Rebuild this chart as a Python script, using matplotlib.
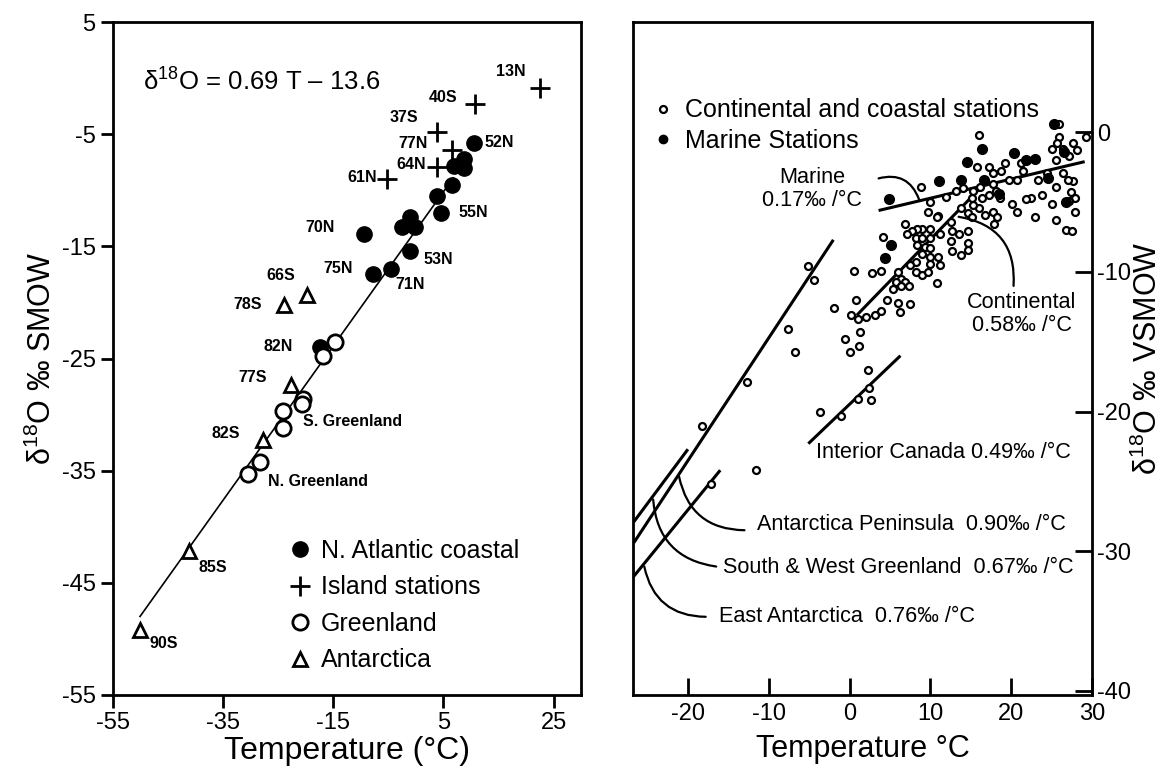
import numpy as np
import matplotlib.pyplot as plt
from matplotlib.lines import Line2D

plt.rcParams['font.family'] = ['Liberation Sans', 'DejaVu Sans']
plt.rcParams['axes.unicode_minus'] = False
plt.rcParams['mathtext.fontset'] = 'custom'
plt.rcParams['mathtext.rm'] = 'Liberation Sans'

# ---------------- left panel data (T in degC, d18O in permil) ----------------
atl_T = [10.6, 7.0, 8.8, 8.8, 6.6, 3.9, 4.6, -1.0, -0.1, -2.5, -9.5, -1.0, -4.5, -7.8, -17.5]
atl_d = [-5.8, -7.8, -7.2, -8.0, -9.5, -10.5, -12.0, -12.4, -13.3, -13.3, -13.9, -15.4, -17.0, -17.5, -24.0]
isl_T = [22.5, 10.8, 3.9, 6.6, 3.9, -5.2]
isl_d = [-0.9, -2.3, -4.8, -6.4, -7.9, -9.0]
grn_T = [-14.6, -16.8, -20.5, -20.6, -24.1, -24.1, -28.3, -30.4]
grn_d = [-23.5, -24.8, -28.6, -29.1, -29.7, -31.2, -34.2, -35.3]
ant_T = [-19.7, -23.9, -22.6, -27.7, -41.2, -50.1]
ant_d = [-19.3, -20.2, -27.4, -32.3, -42.2, -49.2]
fit_T = [-50.1, 6.8]
fit_d = [-48.0, -8.9]

station_names = ['13N', '40S', '37S', '77N', '64N', '61N', '52N', '55N', '70N', '53N',
                 '75N', '71N', '66S', '78S', '82N', '77S', '82S', '85S', '90S',
                 'S. Greenland', 'N. Greenland']
station_T = [14.6, 2.3, -4.8, -3.2, -3.5, -7.0, 12.5, 7.7, -20.1, 1.4,
             -16.8, -3.7, -27.2, -33.2, -27.7, -32.3, -37.2, -39.4, -48.3,
             -20.5, -26.8]
station_d = [0.6, -1.7, -3.5, -5.8, -7.7, -8.9, -5.7, -12.0, -13.3, -16.2,
             -17.0, -18.4, -17.6, -20.2, -23.9, -26.7, -31.7, -43.6, -50.4,
             -30.6, -36.0]
right_aligned = {'61N'}

# ---------------- right panel data ----------------
cont_T = [25.9, 16.0, 25.9, 29.3, 25.7, 25.1, 26.4, 27.7, 28.1, 25.5, 27.2, 24.4, 26.4,
          27.7, 25.5, 27.0, 27.4, 27.9, 27.2, 25.1, 27.9, 25.5, 26.8, 27.5, 22.9, 23.8,
          22.5, 21.8, 20.7, 20.1, 23.3, 21.5, 20.7, 19.7, 18.8, 17.7, 17.3, 15.8, 15.3,
          15.1, 13.8, 14.0, 13.2, 9.9, 9.7, 11.0, 16.2, 16.8, 17.7, 18.1, 18.6, 17.3,
          16.4, 16.0, 16.8, 17.7, 18.3, 17.9, 15.3, 14.7, 15.1, 12.5, 12.7, 13.6, 14.7,
          14.7, 14.7, 13.8, 12.7, 12.5, 11.2, 9.9, 9.0, 8.4, 7.7, 7.1, 6.9, 8.2, 9.0,
          9.9, 8.4, 9.3, 9.9, 9.0, 9.9, 11.0, 11.2, 8.2, 7.5, 8.2, 9.0, 9.7, 9.9, 6.0,
          6.4, 5.8, 6.9, 5.4, 6.4, 7.3, 10.8, 4.1, 2.8, 3.9, 0.6, 0.8, 4.7, 6.0, 6.2,
          7.5, 3.9, 3.2, 2.1, 1.0, 0.2, -1.9, 2.3, 10.8, 19.2, 21.2, 12.0, 8.9,
          -5.2, -4.4, -7.6, -6.8, -12.7, -18.2, -11.6, -17.1, -3.6, -1.0, 1.1, 2.6,
          2.4, -0.6, 1.2, 0.0, 1.3]
cont_d = [0.6, -0.2, -0.3, -0.3, -0.8, -1.2, -1.2, -0.8, -1.3, -2.0, -1.7, -2.9, -2.9,
          -3.5, -3.9, -3.4, -4.3, -4.7, -4.9, -5.1, -5.7, -6.3, -7.0, -7.1, -6.1, -4.5,
          -4.7, -4.8, -5.7, -5.1, -3.4, -2.8, -3.4, -3.4, -2.8, -2.9, -2.5, -2.5, -4.2,
          -4.7, -5.4, -4.0, -4.2, -5.0, -5.7, -6.0, -3.9, -3.5, -3.7, -4.2, -4.7, -4.5,
          -4.7, -5.4, -5.9, -5.7, -6.1, -6.6, -5.2, -5.8, -6.1, -6.4, -7.1, -7.3, -7.1,
          -7.9, -8.4, -8.8, -8.5, -7.8, -7.3, -6.9, -6.9, -6.9, -7.1, -7.3, -6.6, -7.6,
          -7.6, -7.6, -8.1, -8.2, -8.3, -8.7, -8.9, -8.9, -9.5, -9.3, -9.5, -10.0, -10.2,
          -10.0, -9.4, -10.0, -10.5, -10.7, -10.7, -11.2, -11.0, -11.0, -10.8, -7.5, -10.1,
          -9.9, -9.9, -12.0, -12.0, -12.2, -12.9, -12.3, -12.8, -13.1, -13.2, -13.4, -13.1,
          -12.6, -17.0, -6.1, -2.2, -2.2, -4.6, -3.9,
          -9.6, -10.6, -14.1, -15.7, -17.9, -21.0, -24.2, -25.2, -20.0, -20.3, -19.1, -19.2,
          -18.3, -14.8, -15.3, -15.7, -14.3]
mar_T = [4.9, 5.1, 4.4, 11.1, 14.6, 16.4, 16.6, 20.3, 21.8, 22.9, 25.3, 24.6, 26.5, 26.8, 18.5, 13.8]
mar_d = [-4.8, -8.1, -9.0, -3.5, -2.1, -1.2, -3.4, -1.45, -2.0, -1.9, 0.6, -3.3, -1.4, -5.0, -4.4, -3.4]

# regression lines (endpoints)
lines = {
    'marine':      ([3.6, 29.1], [-5.6, -2.1]),
    'continental': ([0.9, 17.0], [-13.1, -3.5]),
    'peninsula':   ([-26.7, -2.0], [-29.4, -7.7]),
    'greenland':   ([-26.7, -20.0], [-27.9, -22.7]),
    'east_ant':    ([-26.7, -16.0], [-31.8, -24.2]),
    'canada':      ([-5.1, 6.3], [-22.3, -16.0]),
}

fig = plt.figure(figsize=(11.75, 7.78), dpi=100)

# ======================= LEFT PANEL =======================
ax1 = fig.add_axes([0.0962, 0.1067, 0.3983, 0.865])
ax1.plot(fit_T, fit_d, color='black', lw=1.2)
ax1.plot(atl_T, atl_d, 'o', color='black', ms=11, zorder=3)
ax1.plot(isl_T, isl_d, '+', color='black', ms=14, mew=2, zorder=3)
ax1.plot(grn_T, grn_d, 'o', mfc='white', mec='black', ms=11, mew=2, zorder=3)
ax1.plot(ant_T, ant_d, '^', mfc='white', mec='black', ms=10, mew=2, zorder=3)

for name, x, y in zip(station_names, station_T, station_d):
    ha = 'right' if name in right_aligned else 'left'
    ax1.text(x, y, name, fontsize=11.5, fontweight='bold', ha=ha, va='center')

ax1.text(-49.5, -0.2, 'δ$^{18}$O = 0.69 T – 13.6', fontsize=18.5, ha='left', va='center')

ax1.set_xlim(-55, 30)
ax1.set_ylim(-55, 5)
ax1.set_xticks([-55, -35, -15, 5, 25])
ax1.set_yticks([5, -5, -15, -25, -35, -45, -55])
ax1.tick_params(direction='out', length=9, width=2, labelsize=17, top=False, right=False)
for s in ax1.spines.values():
    s.set_linewidth(2)
ax1.set_xlabel('Temperature (°C)', fontsize=23, labelpad=1)
ax1.set_ylabel('δ$^{18}$O ‰ SMOW', fontsize=22, labelpad=3)

handles1 = [
    Line2D([], [], ls='none', marker='o', color='black', ms=11),
    Line2D([], [], ls='none', marker='+', color='black', ms=14, mew=2),
    Line2D([], [], ls='none', marker='o', mfc='white', mec='black', ms=11, mew=2),
    Line2D([], [], ls='none', marker='^', mfc='white', mec='black', ms=10, mew=2),
]
ax1.legend(handles1, ['N. Atlantic coastal', 'Island stations', 'Greenland', 'Antarctica'],
           loc='lower left', bbox_to_anchor=(0.33, 0.0), frameon=False, fontsize=18,
           handlelength=0.8, handletextpad=0.45, labelspacing=0.5)

# ======================= RIGHT PANEL =======================
ax2 = fig.add_axes([0.5387, 0.1067, 0.3906, 0.865])
for key, (lx, ly) in lines.items():
    ax2.plot(lx, ly, color='black', lw=2.2, solid_capstyle='butt')
ax2.plot(cont_T, cont_d, 'o', mfc='white', mec='black', ms=5, mew=1.6, zorder=3)
ax2.plot(mar_T, mar_d, 'o', color='black', ms=7, zorder=4)

lbl = dict(fontsize=15.6)
ax2.text(-4.6, -4.05, 'Marine\n0.17‰ /°C', ha='center', va='center', linespacing=1.1, **lbl)
ax2.text(21.3, -13.0, 'Continental\n0.58‰ /°C', ha='center', va='center', linespacing=1.1, **lbl)
ax2.text(-4.2, -22.9, 'Interior Canada 0.49‰ /°C', ha='left', va='center', **lbl)
ax2.text(-11.4, -28.1, 'Antarctica Peninsula  0.90‰ /°C', ha='left', va='center', **lbl)
ax2.text(-15.6, -31.2, 'South & West Greenland  0.67‰ /°C', ha='left', va='center', **lbl)
ax2.text(-16.1, -34.7, 'East Antarctica  0.76‰ /°C', ha='left', va='center', **lbl)

leaders = [((3.6, -3.3), (8.6, -4.8), -0.45),
           ((13.5, -6.05), (20.3, -11.0), -0.45),
           ((-21.1, -24.65), (-13.0, -28.5), 0.4),
           ((-24.3, -26.3), (-16.5, -31.1), 0.4),
           ((-25.4, -31.1), (-17.8, -34.7), 0.4)]
for p0, p1, rad in leaders:
    ax2.annotate('', xy=p1, xytext=p0,
                 arrowprops=dict(arrowstyle='-', lw=1.6, color='black',
                                 connectionstyle=f'arc3,rad={rad}',
                                 shrinkA=0, shrinkB=0))

ax2.set_xlim(-26.8, 30)
ax2.set_ylim(-40.3, 7.9)
ax2.set_xticks([-20, -10, 0, 10, 20, 30])
ax2.set_yticks([0, -10, -20, -30, -40])
ax2.yaxis.tick_right()
ax2.yaxis.set_label_position('right')
ax2.tick_params(direction='in', length=12, width=2, labelsize=17, pad=6)
ax2.tick_params(axis='y', pad=4)
for s in ax2.spines.values():
    s.set_linewidth(2)
ax2.set_xlabel('Temperature °C', fontsize=22, labelpad=6)
ax2.set_ylabel('δ$^{18}$O ‰ VSMOW', fontsize=22, labelpad=1)

handles2 = [
    Line2D([], [], ls='none', marker='o', mfc='white', mec='black', ms=5, mew=1.6),
    Line2D([], [], ls='none', marker='o', color='black', ms=6),
]
ax2.legend(handles2, ['Continental and coastal stations', 'Marine Stations'],
           loc='upper left', bbox_to_anchor=(0.0, 0.92), frameon=False, fontsize=18,
           handlelength=0.6, handletextpad=0.6, labelspacing=0.25)

fig.savefig('out.png', dpi=100)
